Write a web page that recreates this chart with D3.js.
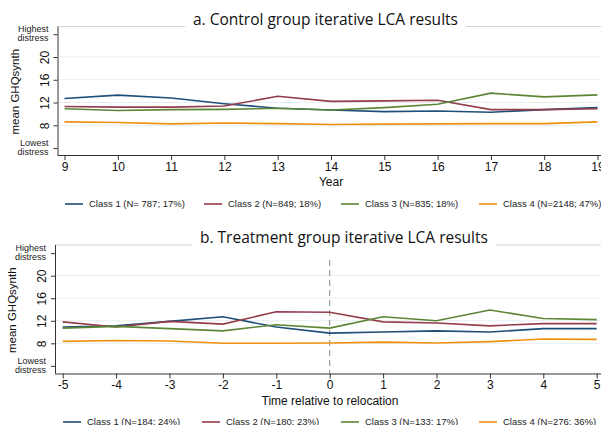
<!DOCTYPE html>
<html>
<head>
<meta charset="utf-8">
<script src="https://cdn.jsdelivr.net/npm/d3@7"></script>
<style>
  body { margin: 0; background: #fff; }
  svg { display: block; }
</style>
</head>
<body>
<svg></svg>
<script>
// panel a: control group, by year
let yearsA = [9, 10, 11, 12, 13, 14, 15, 16, 17, 18, 19]
let class1A = [12.7, 13.3, 12.8, 11.8, 11.0, 10.7, 10.4, 10.5, 10.3, 10.75, 11.1]
let class2A = [11.3, 11.2, 11.2, 11.4, 13.1, 12.2, 12.3, 12.4, 10.75, 10.75, 10.9]
let class3A = [10.9, 10.6, 10.75, 10.8, 11.0, 10.7, 11.1, 11.7, 13.65, 13.0, 13.35]
let class4A = [8.6, 8.5, 8.25, 8.4, 8.3, 8.15, 8.2, 8.25, 8.3, 8.3, 8.6]
let legendA = ['Class 1 (N= 787; 17%)', 'Class 2 (N=849; 18%)', 'Class 3 (N=835; 18%)', 'Class 4 (N=2148; 47%)']

// panel b: treatment group, time relative to relocation
let timesB = [-5, -4, -3, -2, -1, 0, 1, 2, 3, 4, 5]
let class1B = [10.9, 11.1, 11.9, 12.7, 10.9, 9.8, 10.0, 10.2, 10.0, 10.6, 10.6]
let class2B = [11.8, 10.9, 11.9, 11.4, 13.6, 13.5, 11.8, 11.6, 11.1, 11.5, 11.5]
let class3B = [10.7, 11.0, 10.6, 10.2, 11.3, 10.7, 12.7, 12.0, 13.9, 12.4, 12.2]
let class4B = [8.35, 8.5, 8.4, 8.0, 8.0, 8.05, 8.2, 8.05, 8.3, 8.75, 8.7]
let legendB = ['Class 1 (N=184; 24%)', 'Class 2 (N=180; 23%)', 'Class 3 (N=133; 17%)', 'Class 4 (N=276; 36%)']

let yTicks = [8, 12, 16, 20]
let colors = ['#1f4e79', '#943d4c', '#5c8636', '#f0900f']

let width = 601
let height = 425
let font = '"Liberation Sans", Arial, sans-serif'

let svg = d3.select('svg')
    .attr('width', width)
    .attr('height', height)

let drawPanel = (p) => {

    let xScale = d3.scaleLinear()
        .domain([p.xs[0], p.xs[p.xs.length - 1]])
        .range([p.x0, p.x1])

    let yScale = d3.scaleLinear()
        .domain([8, 20])
        .range([p.y8, p.y20])

    let g = svg.append('g')

    // top frame line, interrupted by the title
    g.append('line')
        .attr('x1', p.axisX).attr('x2', width)
        .attr('y1', p.top).attr('y2', p.top)
        .attr('stroke', '#d4d4d4')
        .attr('stroke-width', 1)

    // grid
    g.selectAll('line.grid')
        .data(yTicks)
        .enter()
        .append('line')
        .attr('class', 'grid')
        .attr('x1', p.axisX + 1).attr('x2', width)
        .attr('y1', (d) => yScale(d)).attr('y2', (d) => yScale(d))
        .attr('stroke', '#e7eef2')
        .attr('stroke-width', 1)

    if (p.dash) {
        g.append('line')
            .attr('x1', xScale(0)).attr('x2', xScale(0))
            .attr('y1', p.top + 15).attr('y2', p.bottom)
            .attr('stroke', '#888')
            .attr('stroke-width', 1)
            .attr('stroke-dasharray', '6,4')
    }

    // x axis (plain hyphen for negatives, as in the original)
    let xAxis = d3.axisBottom(xScale)
        .tickValues(p.xs)
        .tickSize(5)
        .tickSizeOuter(0)
        .tickPadding(2)
        .tickFormat((d) => String(d))
    let gx = g.append('g')
        .attr('transform', 'translate(0,' + p.bottom + ')')
        .call(xAxis)
    gx.select('.domain').attr('d', 'M' + p.axisX + ',0.5H' + width).attr('stroke', '#333')
    gx.selectAll('.tick line').attr('stroke', '#333')
    gx.selectAll('text')
        .style('font', '12px ' + font)
        .attr('fill', '#111')

    // y axis
    let yAxis = d3.axisLeft(yScale)
        .tickValues([4, 8, 12, 16, 20, 24])
        .tickSize(4)
        .tickSizeOuter(0)
        .tickFormat((d) => (d === 4 || d === 24) ? '' : d)
    let gy = g.append('g')
        .attr('transform', 'translate(' + p.axisX + ',0)')
        .call(yAxis)
    gy.select('.domain').attr('d', 'M0.5,' + p.top + 'V' + p.bottom).attr('stroke', '#333')
    gy.selectAll('.tick line').attr('stroke', '#333')
    gy.selectAll('.tick text')
        .attr('x', null).attr('dy', null)
        .attr('transform', 'translate(-9,0) rotate(-90)')
        .attr('text-anchor', 'middle')
        .style('font', '12px ' + font)
        .attr('fill', '#111')

    // end labels
    let endLabels = [[24, 'Highest', 'distress'], [4, 'Lowest', 'distress']]
    endLabels.forEach((e) => {
        let t = g.append('text')
            .attr('text-anchor', 'end')
            .style('font', '9px ' + font)
            .attr('fill', '#222')
        t.append('tspan').attr('x', p.axisX - 9).attr('y', yScale(e[0]) - 2).text(e[1])
        t.append('tspan').attr('x', p.axisX - 9).attr('y', yScale(e[0]) + 7).text(e[2])
    })

    g.append('text')
        .attr('transform', 'translate(' + (p.axisX - 39) + ',' + ((p.top + p.bottom) / 2 + 1) + ') rotate(-90)')
        .attr('text-anchor', 'middle')
        .style('font', '11.5px ' + font)
        .attr('fill', '#111')
        .text('mean GHQsynth')

    g.append('text')
        .attr('x', p.xTitleX)
        .attr('y', p.bottom + 31)
        .attr('text-anchor', 'middle')
        .style('font', '12px ' + font)
        .attr('fill', '#111')
        .text(p.xTitle)

    // lines
    let line = d3.line()
        .x((d) => xScale(d[0]))
        .y((d) => yScale(d[1]))

    p.series.forEach((s, i) => {
        g.append('path')
            .datum(p.xs.map((x, j) => [x, s[j]]))
            .attr('d', line)
            .attr('fill', 'none')
            .attr('stroke', colors[i])
            .attr('stroke-width', 1.6)
    })

    // legend
    let lg = g.selectAll('g.leg')
        .data(p.legend)
        .enter()
        .append('g')
        .attr('class', 'leg')
        .attr('transform', (d, i) => 'translate(' + p.legX[i] + ',' + p.legY + ')')
    lg.append('line')
        .attr('x1', 0).attr('x2', 18)
        .attr('stroke', (d, i) => colors[i])
        .attr('stroke-width', 1.6)
    lg.append('text')
        .attr('x', 24)
        .attr('dy', '0.35em')
        .style('font', '9.5px ' + font)
        .attr('fill', '#222')
        .text((d) => d)

    // title with white backing over the frame line
    let title = g.append('text')
        .attr('x', p.titleX)
        .attr('y', p.titleY)
        .style('font', '15.5px "Open Sans", sans-serif')
        .attr('fill', '#111')
        .text(p.title)
    let bb = title.node().getBBox()
    g.insert('rect', () => title.node())
        .attr('x', bb.x - 8)
        .attr('y', p.top - 3)
        .attr('width', bb.width + 16)
        .attr('height', 6)
        .attr('fill', '#fff')
}

drawPanel({
    xs: yearsA, series: [class1A, class2A, class3A, class4A], legend: legendA,
    x0: 64.5, x1: 597.5, y8: 125.3, y20: 57, axisX: 57.5, top: 26.5, bottom: 155,
    xTitle: 'Year', xTitleX: 331, title: 'a. Control group iterative LCA results',
    titleX: 193, titleY: 25, legY: 204, legX: [65, 204, 341, 479], dash: false
})

drawPanel({
    xs: timesB, series: [class1B, class2B, class3B, class4B], legend: legendB,
    x0: 62.7, x1: 596.7, y8: 343.3, y20: 275.7, axisX: 55, top: 245, bottom: 373.5,
    xTitle: 'Time relative to relocation', xTitleX: 330, title: 'b. Treatment group iterative LCA results',
    titleX: 200, titleY: 243, legY: 422, legX: [63, 202, 341, 479], dash: true
})
</script>
</body>
</html>
